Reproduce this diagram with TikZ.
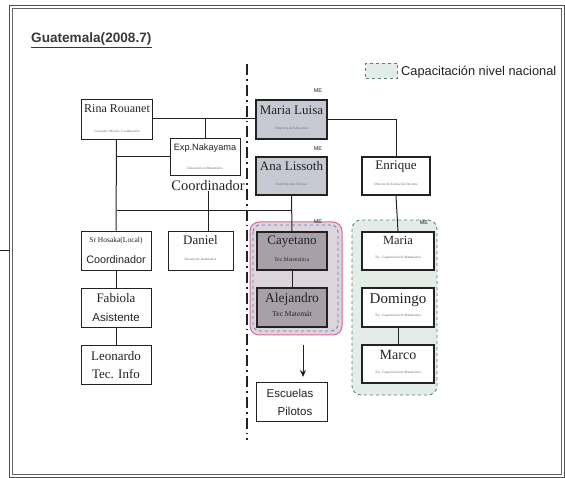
\documentclass[tikz,border=0pt]{standalone}
\usepackage{fontspec}
\setmainfont{Liberation Serif}
\newfontfamily\sansf{Liberation Sans}
\usetikzlibrary{arrows.meta,calc,backgrounds}
\definecolor{grayA}{HTML}{C6C9D1}
\definecolor{grayB}{HTML}{A8A0A9}
\definecolor{pinkB}{HTML}{D9699D}
\definecolor{pinkF}{HTML}{DDD4DC}
\definecolor{tealB}{HTML}{5E7F78}
\definecolor{tealF}{HTML}{E4ECE8}
\definecolor{blueD}{HTML}{4F86A8}
\definecolor{ink}{HTML}{222222}
\definecolor{subg}{HTML}{666666}
\newcommand{\orgbox}[6]{\node[#1,minimum width={#4-#2},minimum height={#5-#3}] (#6) at ({(#2+#4)/2},{(#3+#5)/2}) {};}
\begin{document}
\begin{tikzpicture}[x=1pt,y=-1pt,
  thinbox/.style={draw=ink,line width=0.9pt,fill=white,inner sep=0pt},
  thickbox/.style={draw=ink,line width=2pt,fill=white,inner sep=0pt},
  greybox/.style={thickbox,fill=grayA},
  darkbox/.style={thickbox,fill=grayB},
  nm/.style={inner sep=0pt,font=\fontsize{13}{13}\selectfont,text=ink},
  sm/.style={inner sep=0pt,font=\fontsize{3.4}{4}\selectfont,text=subg},
  sn/.style={inner sep=0pt,font=\sansf\fontsize{11.5}{12}\selectfont,text=ink},
  me/.style={inner sep=0pt,font=\sansf\fontsize{5.5}{6}\selectfont,text=ink},
  link/.style={draw=ink,line width=1pt}]
\useasboundingbox (0,0) rectangle (565,478);
% title and legend
\node[anchor=base west,inner sep=0pt,font=\sansf\bfseries\fontsize{13.6}{14}\selectfont,text=ink!90] (title) at (31,43) {Guatemala(2008.7)};
\draw[line width=0.9pt,ink!90] ($(title.base west)+(0,4.5)$) coordinate (ul1) -- ($(title.base east)+(0,4.5)$) coordinate (ul2);
\node[draw=tealB,dashed,fill=tealF,line width=0.8pt,minimum width=32,minimum height=15,inner sep=0pt] (leg) at (381.5,70.5) {};
\node[anchor=west,inner sep=0pt,font=\sansf\fontsize{12.8}{13}\selectfont,text=ink] (legt) at (401,72) {Capacitación nivel nacional};
% boxes
\orgbox{thinbox}{81}{99}{152}{139}{rina}
\orgbox{thinbox}{170}{138}{240}{175}{nak}
\orgbox{greybox}{256}{100}{327}{139}{ml}
\orgbox{greybox}{256}{157}{327}{195}{al}
\orgbox{thickbox}{362}{157}{430}{195}{enr}
\orgbox{thinbox}{81}{231}{151}{270}{hos}
\orgbox{thinbox}{168}{231}{233}{270}{dan}
\orgbox{thinbox}{81}{288}{151}{327}{fab}
\orgbox{thinbox}{81}{345}{151}{384}{leo}
\orgbox{darkbox}{257}{232}{327}{270}{cay}
\orgbox{darkbox}{257}{288}{327}{327}{ale}
\orgbox{thinbox}{256}{382}{327}{421}{esc}
\orgbox{thickbox}{362}{232}{434}{270}{mar}
\orgbox{thickbox}{362}{288}{434}{327}{dom}
\orgbox{thickbox}{362}{345}{434}{383}{mco}
\node[inner sep=0pt,font=\fontsize{14.5}{15}\selectfont,text=ink] (coord) at (208,186) {Coordinador};
% background: frame, groups, connectors
\begin{pgfonlayer}{background}
\draw[line width=0.9pt,ink!80] (9,5) rectangle (564,477);
\draw[line width=0.6pt,ink!70] (12,8) rectangle (561,474);
\coordinate (fl1) at (0,250);
\coordinate (fl2) at (9,250);
\draw[line width=0.9pt,ink] (fl1) -- (fl2);
\draw[pinkB,line width=1pt,fill=pinkF,rounded corners=9pt] (250,222) rectangle (342,335);
\draw[blueD,dashed,line width=0.8pt,rounded corners=7pt] (253,225) rectangle (338,331);
\draw[tealB,dashed,line width=0.9pt,fill=tealF,rounded corners=9pt] (352,220) rectangle (437,395);
\coordinate (jy) at (0,211);
\path[link] (rina.east) -- (rina.east -| ml.west);
\path[link] (ml.east) -| (enr.north);
\path[link] (nak.north) -- (nak.north |- rina.east);
\path[link] (rina.south) -- (hos.north);
\path[link] (rina.south |- nak.west) -- (nak.west);
\path[link] (coord.south) -- (coord.south |- dan.north);
\path[link] (rina.south |- jy) -- (al.south |- jy);
\path[link] (al.south) -- (cay.north);
\path[link] (cay.south) -- (ale.north);
\path[link] (hos.south) -- (fab.north);
\path[link] (fab.south) -- (leo.north);
\path[link] (enr.south) -- (mar.north);
\path[link] (dom.south) -- (mco.north);
\end{pgfonlayer}
\coordinate (ar1) at (303,345);
\coordinate (ar2) at (303,377);
\draw[link,-{Stealth[length=7pt,width=6pt]}] (ar1) -- (ar2);
% texts
\node[nm,font=\fontsize{12}{12}\selectfont] (rina-t) at (117,109) {Rina Rouanet};
\node[sm] (rina-s) at (117,132) {Consejero Oficial / Coordinación};
\node[inner sep=0pt,font=\sansf\fontsize{9.2}{10}\selectfont,text=ink] (nak-t) at (205,148) {Exp.Nakayama};
\node[sm] (nak-s) at (205,168) {Educación en Matemática};
\node[nm] (ml-t) at (291.5,110) {Maria Luisa};
\node[sm] (ml-s) at (291.5,128) {Directora de Educación};
\node[nm] (al-t) at (291.5,166) {Ana Lissoth};
\node[sm] (al-s) at (291.5,184) {Sub Directora Técnica};
\node[nm] (enr-t) at (396,167) {Enrique};
\node[sm] (enr-s) at (396,184) {Director de Formación Docente};
\node[inner sep=0pt,font=\fontsize{7.5}{8}\selectfont,text=ink] (hos-t) at (116,241) {Sr Hosaka(Local)};
\node[sn,font=\sansf\fontsize{10.8}{11}\selectfont] (hos-s) at (116,260) {Coordinador};
\node[nm] (dan-t) at (200.5,240) {Daniel};
\node[sm] (dan-s) at (200.5,259) {Docente de matemática};
\node[nm] (fab-t) at (116,298) {Fabiola};
\node[sn] (fab-s) at (116,317) {Asistente};
\node[nm] (leo-t) at (116,356) {Leonardo};
\node[nm] (leo-s) at (116,374) {Tec. Info};
\node[nm] (cay-t) at (292,242) {Cayetano};
\node[inner sep=0pt,font=\fontsize{5.5}{6}\selectfont,text=ink] (cay-s) at (292,260) {Tec.Matemática};
\node[nm,font=\fontsize{13.5}{14}\selectfont] (ale-t) at (292,299) {Alejandro};
\node[inner sep=0pt,font=\fontsize{7.5}{8}\selectfont,text=ink] (ale-s) at (292,314) {Tec Matemát};
\node[sn] (esc-t) at (290,393) {Escuelas};
\node[sn] (esc-s) at (295,411) {Pilotos};
\node[nm,font=\fontsize{12.5}{13}\selectfont] (mar-t) at (398,240) {Maria};
\node[sm] (mar-s) at (398,258) {Tec. Capacitación de Matemática};
\node[nm,font=\fontsize{15}{15}\selectfont] (dom-t) at (398,300) {Domingo};
\node[sm] (dom-s) at (398,316) {Tec. Capacitación de Matemática};
\node[nm,font=\fontsize{14}{14}\selectfont] (mco-t) at (398,355) {Marco};
\node[sm] (mco-s) at (398,373) {Tec. Capacitación de Matemática};
% ME labels
\node[me] (me1) at (318,91) {ME};
\node[me] (me2) at (318,149) {ME};
\node[me] (me3) at (318,222) {ME};
\node[me] (me4) at (424,223) {ME};
% dash-dot divider
\coordinate (dv1) at (247,64);
\coordinate (dv2) at (247,440);
\draw[ink,line width=2.2pt,dash pattern=on 11pt off 4pt on 1.8pt off 4pt] (dv1) -- (dv2);
\end{tikzpicture}
\end{document}
